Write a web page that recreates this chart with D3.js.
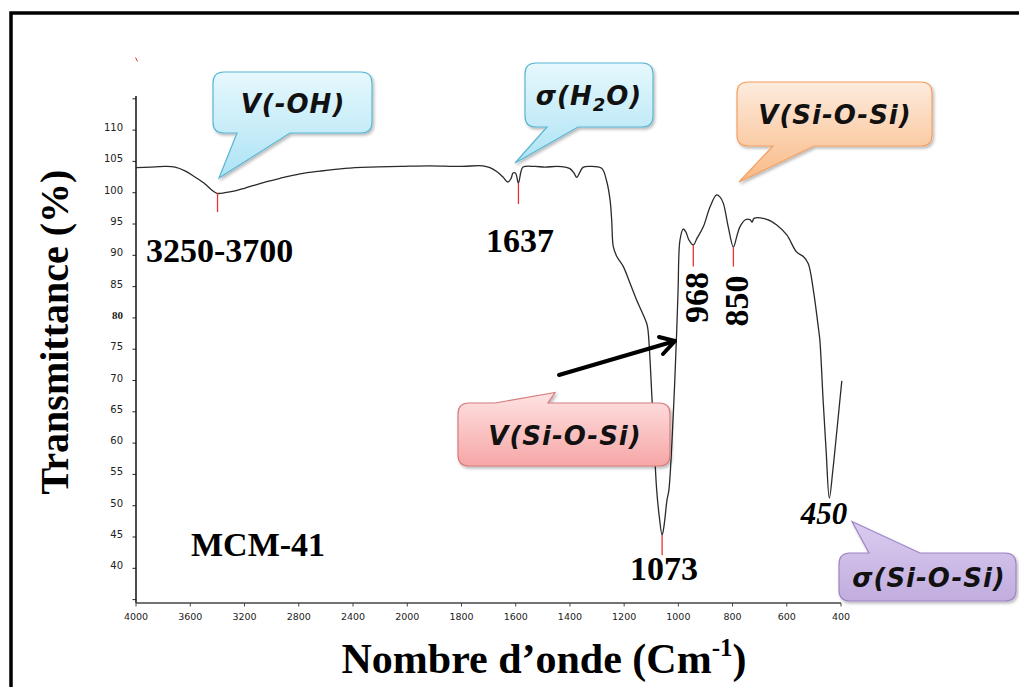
<!DOCTYPE html>
<html>
<head>
<meta charset="utf-8">
<script src="https://cdn.jsdelivr.net/npm/d3@7/dist/d3.min.js"></script>
<style>
  html, body { margin: 0; padding: 0; background: #fff; }
  svg { display: block; }
</style>
</head>
<body>
<svg id="chart" width="1019" height="687"></svg>
<script>
// ---------- DATA ----------
const wavenumber = [4000,3897,3786,3712,3639,3565,3491,3440,3403,3344,3270,3196,3123,3049,2938,2791,2644,2459,2275,2054,
  1917,1806,1721,1695,1669,1647,1629,1617,1610,1601,1590,1581,1573,1529,1492,1449,1418,1400,1385,1375,1363,1352,1326,1283,
  1264,1252,1246,1240,1227,1203,1178,1154,1117,1112,1097,1080,1071,1060,1053,1042,1035,1018,1006,1001,994,982,972,961,945,
  931,908,883,859,846,834,816,797,784,773,754,736,728,721,674,637,600,564,539,521,502,484,478,466,455,443,430,415,397];
const transmittance = [104.0,104.1,104.2,104.1,103.5,102.5,101.4,100.4,99.9,100.0,100.3,100.75,101.2,101.7,102.3,103.0,103.45,103.9,104.1,104.2,
  104.3,104.2,104.3,104.0,103.35,102.5,101.7,102.3,103.15,103.15,101.55,103.3,104.1,104.2,104.1,104.2,104.1,103.85,103.15,102.45,103.3,104.05,104.2,103.9,
  101.75,98.85,95.65,91.4,89.8,88.2,85.5,82.85,79.15,78.05,66.9,52.5,48.5,45.3,46.75,50.9,52.5,65.3,78.05,84.45,92.45,94.2,93.7,92.45,91.65,
  92.75,94.55,97.75,99.65,99.3,98.3,94.55,91.35,93.1,94.55,95.65,95.7,95.3,95.9,95.75,94.85,93.25,90.55,89.8,88.7,84.45,78.6,76.45,66.9,58.9,51.2,55.7,62.1,69.95];

const xTickValues = [4000,3600,3200,2800,2400,2000,1800,1600,1400,1200,1000,800,600,400];
const yTickValues = [40,45,50,55,60,65,70,75,80,85,90,95,100,105,110];
const yMinorTicks = [35,115];

// red peak markers: wavenumber, upper and lower transmittance
const markerWn = [3399,1590,1060,945,797];
const markerTop = [99.95,101.55,45.3,91.65,91.35];
const markerBottom = [96.9,98.2,42.1,88.2,88.2];

// ---------- SETUP ----------
const svg = d3.select("#chart");
const serif = "'Liberation Serif','Times New Roman',serif";
const sans = "'DejaVu Sans',Verdana,sans-serif";

const x = d3.scaleLinear().domain([4000, 2000, 400]).range([136, 407.3, 841]);
const y = d3.scaleLinear().domain([34.46, 115.45]).range([603, 96]);

const defs = svg.append("defs");
const shadow = defs.append("filter").attr("id","shadow").attr("x","-10%").attr("y","-10%").attr("width","130%").attr("height","140%");
shadow.append("feDropShadow").attr("dx",1.5).attr("dy",2).attr("stdDeviation",1.5).attr("flood-color","#000").attr("flood-opacity",0.28);

function grad(id, c0, c1) {
  const g = defs.append("linearGradient").attr("id", id).attr("x1",0).attr("y1",0).attr("x2",0).attr("y2",1);
  g.append("stop").attr("offset","0%").attr("stop-color", c0);
  g.append("stop").attr("offset","100%").attr("stop-color", c1);
}
grad("gCyan", "#e6f8fd", "#ade3f4");
grad("gOrange", "#fdebdd", "#f9ba86");
grad("gRed", "#ffe3e3", "#f6a6a6");
grad("gPurple", "#d9ccef", "#c2addf");

// frame
svg.append("rect").attr("x", 11).attr("y", 13).attr("width", 1100).attr("height", 1000)
  .attr("fill", "none").attr("stroke", "#000").attr("stroke-width", 3.5);

// ---------- AXES ----------
// y axis
svg.append("line").attr("x1", 136).attr("x2", 136).attr("y1", y(115.45)).attr("y2", y(34.46))
  .attr("stroke", "#111").attr("stroke-width", 1.5);
const yt = svg.append("g");
yt.selectAll("line.major").data(yTickValues.concat(yMinorTicks)).join("line")
  .attr("x1", 132.5).attr("x2", 136).attr("y1", d => y(d)).attr("y2", d => y(d))
  .attr("stroke", "#222").attr("stroke-width", 1);
yt.selectAll("text").data(yTickValues).join("text")
  .attr("x", 123).attr("y", d => y(d) + 1)
  .attr("text-anchor", "end")
  .attr("font-family", d => d === 80 ? serif : sans)
  .attr("font-weight", d => d === 80 ? "bold" : "normal")
  .attr("font-size", d => d === 80 ? 11 : 10)
  .attr("fill", "#222")
  .text(d => d);

// x axis
svg.append("line").attr("x1", x(4000)).attr("x2", x(400)).attr("y1", 603).attr("y2", 603)
  .attr("stroke", "#444").attr("stroke-width", 1.5);
const xt = svg.append("g");
xt.selectAll("line").data(xTickValues).join("line")
  .attr("x1", d => x(d)).attr("x2", d => x(d)).attr("y1", 603).attr("y2", 606.5)
  .attr("stroke", "#444").attr("stroke-width", 1);
xt.selectAll("text").data(xTickValues).join("text")
  .attr("x", d => x(d)).attr("y", 620)
  .attr("text-anchor", "middle")
  .attr("font-family", sans).attr("font-size", 9.5)
  .attr("fill", "#222")
  .text(d => d);

// ---------- SPECTRUM ----------
const pts = wavenumber.map((w, i) => [w, transmittance[i]]);
svg.append("path").datum(pts)
  .attr("d", d3.line().x(d => x(d[0])).y(d => y(d[1])).curve(d3.curveCatmullRom.alpha(0.5)))
  .attr("fill", "none").attr("stroke", "#2a2a2a").attr("stroke-width", 1.3);

// red markers
svg.append("g").selectAll("line").data(markerWn).join("line")
  .attr("x1", d => x(d)).attr("x2", d => x(d))
  .attr("y1", (d, i) => y(markerTop[i])).attr("y2", (d, i) => y(markerBottom[i]))
  .attr("stroke", "#e8322f").attr("stroke-width", 1.3);

// tiny red mark top-left
svg.append("line").attr("x1", 135.5).attr("y1", 57.5).attr("x2", 137.5).attr("y2", 61.5)
  .attr("stroke", "#e8322f").attr("stroke-width", 1);

// ---------- LABELS ----------
function label(txt, px, py, opts = {}) {
  const t = svg.append("text").attr("x", px).attr("y", py)
    .attr("font-family", serif).attr("font-weight", "bold")
    .attr("font-size", opts.size || 34)
    .attr("font-style", opts.italic ? "italic" : "normal")
    .attr("text-anchor", opts.anchor || "start")
    .attr("fill", "#000")
    .text(txt);
  if (opts.rotate) t.attr("transform", `rotate(-90 ${px} ${py})`);
  return t;
}
label("3250-3700", 146, 262);
label("1637", 520, 252, {anchor: "middle"});
label("1073", 664, 580, {anchor: "middle"});
label("968", 708, 297.5, {anchor: "middle", rotate: true});
label("850", 748, 301, {anchor: "middle", rotate: true});
label("450", 824, 524, {anchor: "middle", italic: true, size: 31});
label("MCM-41", 191, 556);

// axis titles
svg.append("text").attr("transform", "translate(68,332) rotate(-90)")
  .attr("text-anchor", "middle").attr("font-family", serif).attr("font-weight", "bold")
  .attr("font-size", 40).attr("fill", "#000").text("Transmittance (%)");
const xtitle = svg.append("text").attr("x", 544).attr("y", 673)
  .attr("text-anchor", "middle").attr("font-family", serif).attr("font-weight", "bold")
  .attr("font-size", 42).attr("fill", "#000");
xtitle.append("tspan").text("Nombre d’onde (Cm");
xtitle.append("tspan").attr("font-size", 25).attr("dy", -17).text("-1");
xtitle.append("tspan").attr("dy", 17).text(")");

// ---------- ARROW ----------
const arrow = svg.append("g").attr("stroke", "#000").attr("stroke-width", 4).attr("stroke-linecap", "round").attr("fill", "none");
arrow.append("line").attr("x1", 559).attr("y1", 375).attr("x2", 675).attr("y2", 341);
arrow.append("polyline").attr("points", "659,337 675,341 663,354").attr("stroke-linejoin", "round");

// ---------- CALLOUTS ----------
function calloutPath(bx, by, w, h, r, side, b0, b1, tx, ty) {
  let p = `M${bx + r},${by}`;
  if (side === "top") p += `L${b0},${by}L${tx},${ty}L${b1},${by}`;
  p += `L${bx + w - r},${by}Q${bx + w},${by} ${bx + w},${by + r}L${bx + w},${by + h - r}Q${bx + w},${by + h} ${bx + w - r},${by + h}`;
  if (side === "bottom") p += `L${b1},${by + h}L${tx},${ty}L${b0},${by + h}`;
  p += `L${bx + r},${by + h}Q${bx},${by + h} ${bx},${by + h - r}L${bx},${by + r}Q${bx},${by} ${bx + r},${by}Z`;
  return p;
}
function callout(c) {
  svg.append("path")
    .attr("d", calloutPath(c.x, c.y, c.w, c.h, 11, c.side, c.b0, c.b1, c.tx, c.ty))
    .attr("fill", `url(#${c.fill})`).attr("stroke", c.stroke).attr("stroke-width", 1.2)
    .attr("filter", "url(#shadow)");
  const t = svg.append("text").attr("x", c.cx).attr("y", c.cy)
    .attr("text-anchor", "middle").attr("font-family", sans).attr("font-style", "italic")
    .attr("font-weight", "bold")
    .attr("font-size", 26).attr("letter-spacing", 1).attr("fill", "#111");
  c.parts.forEach(pt => {
    const s = t.append("tspan").text(pt.t);
    if (pt.sub) s.attr("font-size", 18).attr("dy", 6);
    if (pt.after) s.attr("dy", -6);
  });
}
callout({x: 213, y: 72, w: 159, h: 61, side: "bottom", b0: 237, b1: 290, tx: 219, ty: 178,
  fill: "gCyan", stroke: "#5ab6d2", cx: 293, cy: 113, parts: [{t: "V(-OH)"}]});
callout({x: 525, y: 63, w: 128, h: 64, side: "bottom", b0: 547, b1: 578, tx: 515, ty: 163,
  fill: "gCyan", stroke: "#5ab6d2", cx: 589, cy: 105, parts: [{t: "σ(H"}, {t: "2", sub: true}, {t: "O)", after: true}]});
callout({x: 737, y: 82, w: 195, h: 64, side: "bottom", b0: 773, b1: 814, tx: 739, ty: 182,
  fill: "gOrange", stroke: "#f3a062", cx: 835, cy: 124, parts: [{t: "V(Si-O-Si)"}]});
callout({x: 458, y: 403, w: 212, h: 63, side: "top", b0: 495, b1: 548, tx: 555, ty: 392.5,
  fill: "gRed", stroke: "#d77a7c", cx: 565, cy: 445, parts: [{t: "V(Si-O-Si)"}]});
callout({x: 839, y: 553, w: 177, h: 48, side: "top", b0: 869, b1: 920, tx: 852, ty: 521.5,
  fill: "gPurple", stroke: "#9d85c6", cx: 929, cy: 587, parts: [{t: "σ(Si-O-Si)"}]});
</script>
</body>
</html>
